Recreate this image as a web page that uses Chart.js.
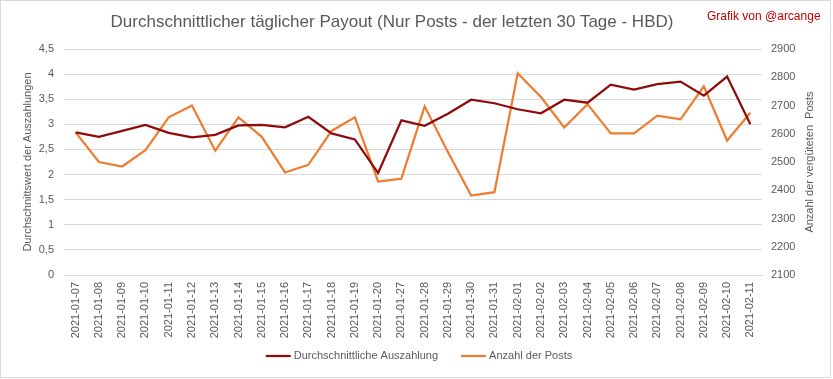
<!DOCTYPE html>
<html lang="de">
<head>
    <meta charset="UTF-8">
    <title>Durchschnittlicher täglicher Payout</title>
    <style>
        body { margin: 0; background: #fff; }
        .wrap { position: relative; width: 833px; height: 379px; }
        .frame { position: absolute; left: 0; top: 0; width: 829px; height: 376px; border: 1px solid #d9d9d9; pointer-events: none; }
        .title { position: absolute; left: 92px; width: 600px; top: 12px; text-align: center; font: 17px "Liberation Sans", Arial, sans-serif; color: #595959; white-space: nowrap; }
        .credit { position: absolute; left: 707px; top: 9px; font: 12px "Liberation Sans", Arial, sans-serif; color: #c00000; }
    </style>
</head>
<body>
    <div class="wrap">
        <canvas id="chart" width="833" height="379"></canvas>
        <div class="frame"></div>
        <div class="title">Durchschnittlicher täglicher Payout (Nur Posts - der letzten 30 Tage - HBD)</div>
        <div class="credit">Grafik von @arcange</div>
    </div>

    <script src="https://cdn.jsdelivr.net/npm/chart.js"></script>
    <script>
        var days = ['2021-01-07', '2021-01-08', '2021-01-09', '2021-01-10', '2021-01-11', '2021-01-12',
            '2021-01-13', '2021-01-14', '2021-01-15', '2021-01-16', '2021-01-17', '2021-01-18',
            '2021-01-19', '2021-01-20', '2021-01-27', '2021-01-28', '2021-01-29', '2021-01-30',
            '2021-01-31', '2021-02-01', '2021-02-02', '2021-02-03', '2021-02-04', '2021-02-05',
            '2021-02-06', '2021-02-07', '2021-02-08', '2021-02-09', '2021-02-10', '2021-02-11'];
        var payout = [2.84, 2.75, 2.87, 2.99, 2.83, 2.74, 2.79, 2.98, 2.99, 2.94, 3.15, 2.82,
            2.70, 2.03, 3.08, 2.97, 3.21, 3.49, 3.42, 3.30, 3.22, 3.49, 3.43, 3.79,
            3.69, 3.80, 3.85, 3.57, 3.95, 3.00];
        var posts = [2605, 2500, 2484, 2542, 2658, 2700, 2540, 2658, 2589, 2463, 2490, 2610,
            2658, 2431, 2441, 2697, 2535, 2381, 2393, 2814, 2730, 2622, 2705, 2601,
            2601, 2664, 2651, 2768, 2576, 2674];

        var gray = '#595959';
        var font = 'Liberation Sans';
        var rightTitle = 'Anzahl der vergüteten  Posts';

        // right axis title reads bottom-to-top like the left one
        var rightTitlePlugin = {
            id: 'rightTitle',
            afterDraw: function(chart) {
                var a = chart.chartArea;
                var ctx = chart.ctx;
                ctx.save();
                ctx.translate(810, (a.top + a.bottom) / 2);
                ctx.rotate(-Math.PI / 2);
                ctx.fillStyle = gray;
                ctx.font = '11px "' + font + '"';
                ctx.textAlign = 'center';
                ctx.textBaseline = 'middle';
                ctx.fillText(rightTitle, 0, 0);
                ctx.restore();
            }
        };

        // Excel-like legend: short line, small gap, text; items spaced wider
        var lineLegendPlugin = {
            id: 'lineLegend',
            afterDraw: function(chart) {
                var ctx = chart.ctx;
                var sets = chart.data.datasets;
                var y = 356, lineW = 25, gap = 3, itemGap = 23;
                ctx.save();
                ctx.font = '11px "' + font + '"';
                var total = 0;
                sets.forEach(function(ds, i) {
                    total += lineW + gap + ctx.measureText(ds.label).width + (i ? itemGap : 0);
                });
                var x = 419 - total / 2;
                sets.forEach(function(ds) {
                    ctx.strokeStyle = ds.borderColor;
                    ctx.lineWidth = 2.25;
                    ctx.beginPath();
                    ctx.moveTo(x, y);
                    ctx.lineTo(x + lineW, y);
                    ctx.stroke();
                    x += lineW + gap;
                    ctx.fillStyle = gray;
                    ctx.textAlign = 'left';
                    ctx.textBaseline = 'middle';
                    ctx.fillText(ds.label, x, y);
                    x += ctx.measureText(ds.label).width + itemGap;
                });
                ctx.restore();
            }
        };

        new Chart(document.getElementById('chart'), {
            type: 'line',
            data: {
                labels: days,
                datasets: [{
                    label: 'Durchschnittliche Auszahlung',
                    data: payout,
                    yAxisID: 'y',
                    borderColor: '#8e0b0b',
                    backgroundColor: '#8e0b0b',
                    borderWidth: 2.25,
                    pointRadius: 0,
                    tension: 0
                }, {
                    label: 'Anzahl der Posts',
                    data: posts,
                    yAxisID: 'y2',
                    borderColor: '#ed7d31',
                    backgroundColor: '#ed7d31',
                    borderWidth: 2.25,
                    pointRadius: 0,
                    tension: 0
                }]
            },
            options: {
                responsive: false,
                animation: false,
                layout: { padding: { left: 0, right: 0, top: 49, bottom: 37 } },
                plugins: {
                    legend: { display: false },
                    tooltip: { enabled: false }
                },
                scales: {
                    x: {
                        offset: true,
                        grid: { display: false, drawTicks: false },
                        border: { color: '#d9d9d9' },
                        ticks: {
                            color: gray,
                            font: { family: font, size: 11 },
                            minRotation: 90,
                            maxRotation: 90,
                            autoSkip: false,
                            padding: 7
                        },
                        afterFit: function(s) { s.height = 67; }
                    },
                    y: {
                        position: 'left',
                        min: 0,
                        max: 4.5,
                        grid: { color: '#d9d9d9', drawTicks: false },
                        border: { display: false },
                        ticks: {
                            stepSize: 0.5,
                            color: gray,
                            font: { family: font, size: 11 },
                            padding: 10,
                            callback: function(v) { return String(v).replace('.', ','); }
                        },
                        title: {
                            display: true,
                            text: 'Durchschnittswert der Auszahlungen',
                            color: gray,
                            font: { family: font, size: 11 },
                            padding: { top: 21 }
                        },
                        afterFit: function(s) { s.width = 64; }
                    },
                    y2: {
                        position: 'right',
                        min: 2100,
                        max: 2900,
                        grid: { display: false, drawTicks: false },
                        border: { display: false },
                        ticks: {
                            stepSize: 100,
                            color: gray,
                            font: { family: font, size: 11 },
                            padding: 9,
                            callback: function(v) { return String(v); }
                        },
                        afterFit: function(s) { s.width = 71; }
                    }
                }
            },
            plugins: [rightTitlePlugin, lineLegendPlugin]
        });
    </script>
</body>
</html>
